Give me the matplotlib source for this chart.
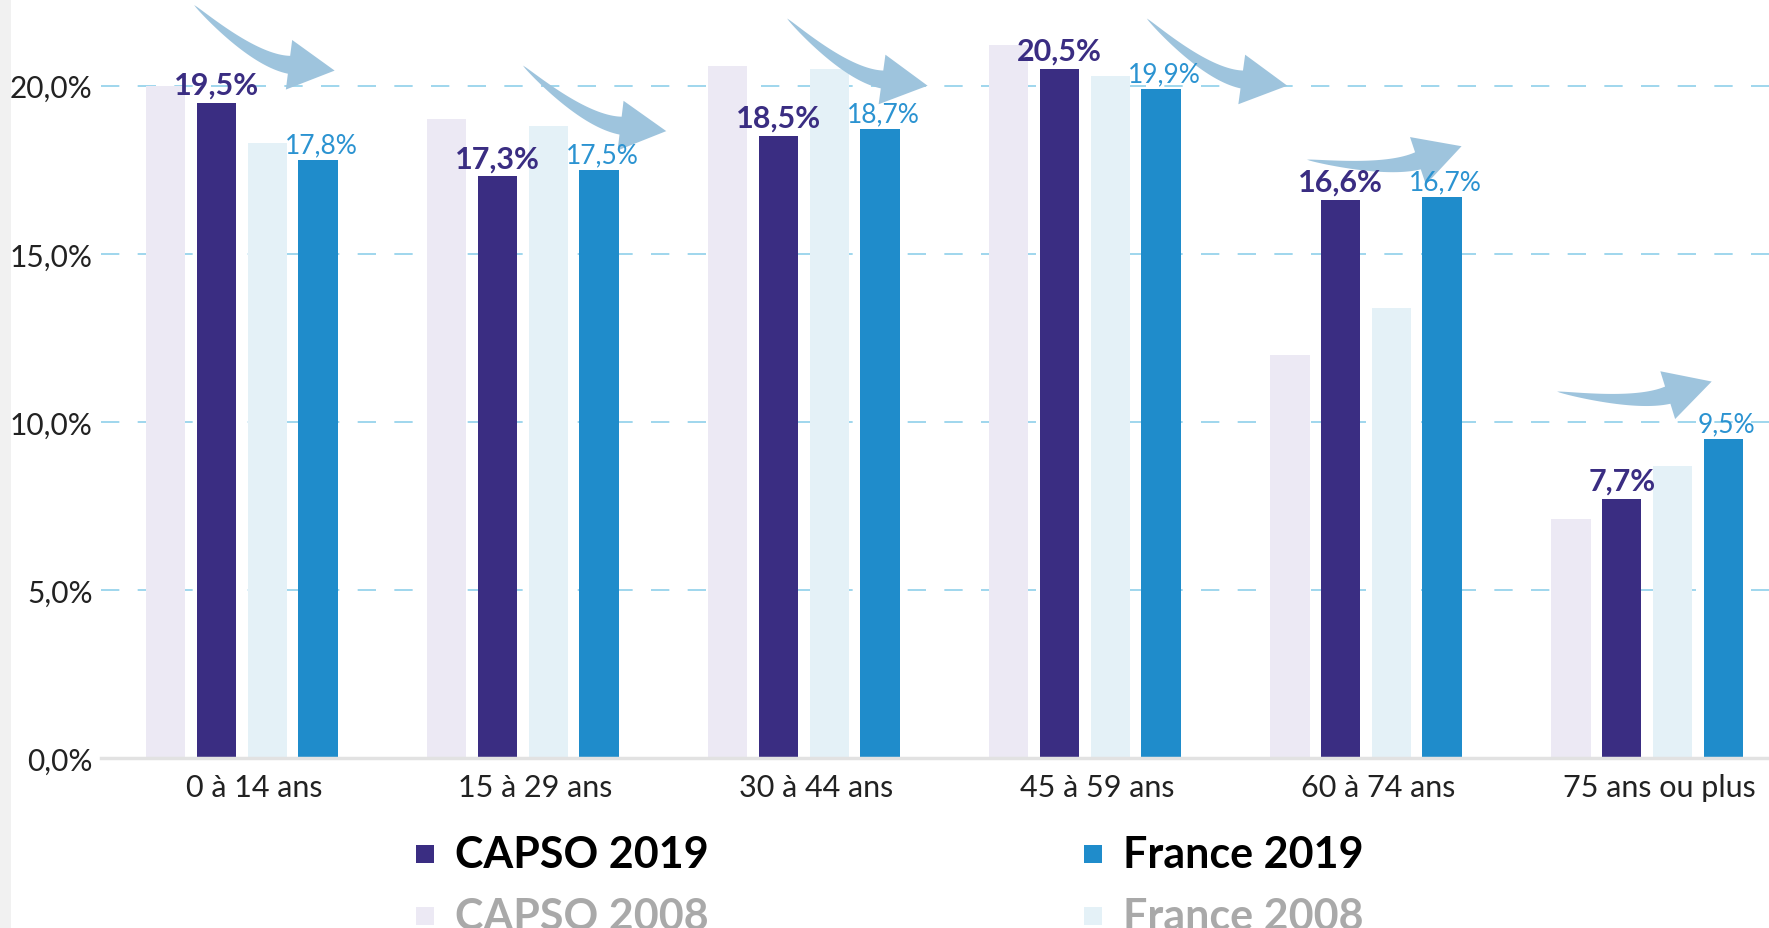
import matplotlib
matplotlib.use('Agg')
import matplotlib.pyplot as plt
from matplotlib.patches import Polygon, Rectangle
import numpy as np

plt.rcParams['font.family'] = ['Lato', 'DejaVu Sans']

# data
age_groups = ['0 à 14 ans', '15 à 29 ans', '30 à 44 ans', '45 à 59 ans', '60 à 74 ans', '75 ans ou plus']
capso_2008 = [20.0, 19.0, 20.6, 21.2, 12.0, 7.1]
capso_2019 = [19.5, 17.3, 18.5, 20.5, 16.6, 7.7]
france_2008 = [18.3, 18.8, 20.5, 20.3, 13.4, 8.7]
france_2019 = [17.8, 17.5, 18.7, 19.9, 16.7, 9.5]
y_ticks = [0, 5, 10, 15, 20]

# decorative trend arrows (tail x, tail y, tip x, tip y) in data units
arrows = [(-0.17, 22.4, 0.33, 20.45),
          (1.00, 20.6, 1.51, 18.65),
          (1.94, 22.0, 2.44, 20.0),
          (3.22, 22.0, 3.72, 20.0),
          (3.79, 17.8, 4.34, 18.2),
          (4.68, 10.9, 5.23, 11.2)]

c_capso19 = '#3a2d82'
c_france19 = '#1f8ccb'
c_capso08 = '#ece9f4'
c_france08 = '#e4f1f7'
c_arrow = '#9ec4dd'


def draw_arrow(ax, tail, tip, bend=0.16, w=18, hw=50, hl=46):
    T = ax.transData
    p0 = T.transform(tail)
    p3 = T.transform(tip)
    d = p3 - p0
    L = np.hypot(*d)
    perp = np.array([d[1], -d[0]]) / L
    c = (p0 + p3) / 2 + perp * bend * L
    u = (p3 - c) / np.hypot(*(p3 - c))
    p2 = p3 - u * hl
    t = np.linspace(0, 1, 50)[:, None]
    curve = (1 - t) ** 2 * p0 + 2 * (1 - t) * t * c + t ** 2 * p2
    der = 2 * (1 - t) * (c - p0) + 2 * t * (p2 - c)
    n = np.column_stack([-der[:, 1], der[:, 0]])
    n = n / np.hypot(n[:, 0], n[:, 1])[:, None]
    half = w / 2 * t ** 0.7
    upper = curve + n * half
    lower = curve - n * half
    nend = np.array([-u[1], u[0]])
    head = np.array([p2 + nend * hw / 2, p3, p2 - nend * hw / 2])
    pts = np.vstack([upper, head, lower[::-1]])
    ax.add_patch(Polygon(T.inverted().transform(pts), closed=True, facecolor=c_arrow,
                         edgecolor='none', zorder=5, clip_on=False))


fig = plt.figure(figsize=(17.69, 9.29), dpi=100)
fig.patches.append(Rectangle((0, 0), 11 / 1769, 1, transform=fig.transFigure,
                             facecolor='#f1f1f1', edgecolor='none', zorder=0))
ax = fig.add_axes([0.057, 0.183, 0.943, 0.817])

x = np.arange(len(age_groups))
bw = 0.14
offs = [-0.271, -0.090, 0.090, 0.271]
ax.bar(x + offs[0], capso_2008, bw, color=c_capso08, zorder=2)
ax.bar(x + offs[1], capso_2019, bw, color=c_capso19, zorder=2)
ax.bar(x + offs[2], france_2008, bw, color=c_france08, zorder=2)
ax.bar(x + offs[3], france_2019, bw, color=c_france19, zorder=2)

ax.set_xlim(-0.502, 5.434)
ax.set_ylim(0, 22.58)

for i, v in enumerate(capso_2019):
    ax.annotate(f'{v:.1f}%'.replace('.', ','), (x[i] + offs[1], v), xytext=(0, 3),
                textcoords='offset points', ha='center', va='bottom',
                fontsize=22, fontweight='bold', color=c_capso19, zorder=6)
for i, v in enumerate(france_2019):
    ax.annotate(f'{v:.1f}%'.replace('.', ','), (x[i] + offs[3] + 0.01, v), xytext=(0, 2),
                textcoords='offset points', ha='center', va='bottom',
                fontsize=19, fontweight='normal', color='#2b93d1', zorder=6)

ax.set_yticks(y_ticks)
ax.set_yticklabels([f'{v:.1f}%'.replace('.', ',') for v in y_ticks], fontsize=21.5, color='#222222')
ax.set_xticks(x + 0.045)
ax.set_xticklabels(age_groups, fontsize=22, color='#222222')
ax.tick_params(length=0)
ax.tick_params(axis='y', pad=6)
ax.tick_params(axis='x', pad=11)

for v in y_ticks[1:]:
    ax.axhline(v, color='#8fd0ea', lw=1.2, dashes=(11, 11), zorder=1)
for s in ['top', 'right', 'left']:
    ax.spines[s].set_visible(False)
ax.spines['bottom'].set_color('#e2e2e2')
ax.spines['bottom'].set_linewidth(2.5)

for a in arrows:
    draw_arrow(ax, (a[0], a[1]), (a[2], a[3]), bend=0.16 if a[3] < a[1] else 0.12)

# legend
legend = [('CAPSO 2019', c_capso19, 'black', 0.235, 0.080),
          ('France 2019', c_france19, 'black', 0.613, 0.080),
          ('CAPSO 2008', c_capso08, '#a9a9a9', 0.235, 0.013),
          ('France 2008', c_france08, '#a9a9a9', 0.613, 0.013)]
for name, col, tcol, lx, ly in legend:
    fig.patches.append(Rectangle((lx, ly - 0.0097), 0.0102, 0.0194, transform=fig.transFigure,
                                 facecolor=col, edgecolor='none'))
    fig.text(lx + 0.022, ly, name, fontsize=31, fontweight='bold', color=tcol, va='center')

plt.savefig('out.png', dpi=100)
